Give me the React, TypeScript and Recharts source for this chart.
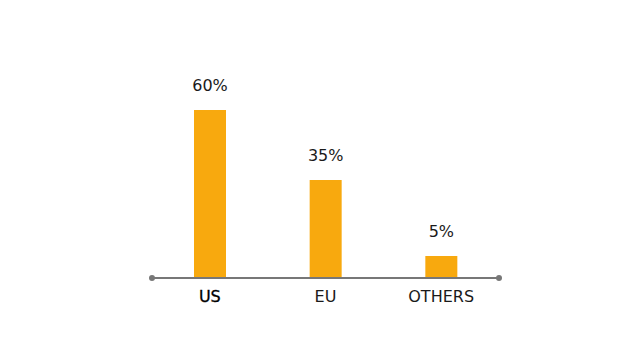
import React from 'react';
import { BarChart, Bar, XAxis, YAxis, LabelList, ReferenceLine } from 'recharts';

const regions = ['US', 'EU', 'OTHERS'];
const shares = [60, 35, 5];
const shareLabels = ['60%', '35%', '5%'];

const data = regions.map((region, i) => ({ region, share: shares[i], label: shareLabels[i] }));

const FONT = '"DejaVu Sans", sans-serif';

// axis line with small round caps at both ends
const AxisWithDots = (props: any) => {
  const { x1, y1, x2, y2 } = props;
  return (
    <g>
      <line x1={x1} y1={y1} x2={x2} y2={y2} stroke="#777" strokeWidth={2} />
      <circle cx={x1} cy={y1} r={3} fill="#777" />
      <circle cx={x2} cy={y2} r={3} fill="#777" />
    </g>
  );
};

const Tick = (props: any) => {
  const { x, y, payload } = props;
  const strong = payload.value === 'US';
  return (
    <text
      x={x}
      y={y + 16}
      textAnchor="middle"
      fontFamily={FONT}
      fontSize={16}
      fill={strong ? '#000' : '#1a1a1a'}
      stroke={strong ? '#000' : 'none'}
      strokeWidth={strong ? 0.3 : 0}
    >
      {payload.value}
    </text>
  );
};

export default function App() {
  return (
    <div style={{ position: 'absolute', left: 0, top: 0, background: '#fff' }}>
      <BarChart
        width={634}
        height={356}
        data={data}
        margin={{ top: 110, right: 135, bottom: 48, left: 152 }}
        barCategoryGap={0}
      >
        <YAxis hide domain={[0, 60]} />
        <XAxis
          dataKey="region"
          height={30}
          axisLine={false}
          tickLine={false}
          tick={<Tick />}
          interval={0}
        />
        <ReferenceLine y={0} shape={<AxisWithDots />} ifOverflow="visible" />
        <Bar dataKey="share" fill="#F8A90E" barSize={32} minPointSize={22} isAnimationActive={false}>
          <LabelList
            dataKey="label"
            position="top"
            offset={19}
            fontFamily={FONT}
            fontSize={16}
            fill="#1a1a1a"
          />
        </Bar>
      </BarChart>
    </div>
  );
}
